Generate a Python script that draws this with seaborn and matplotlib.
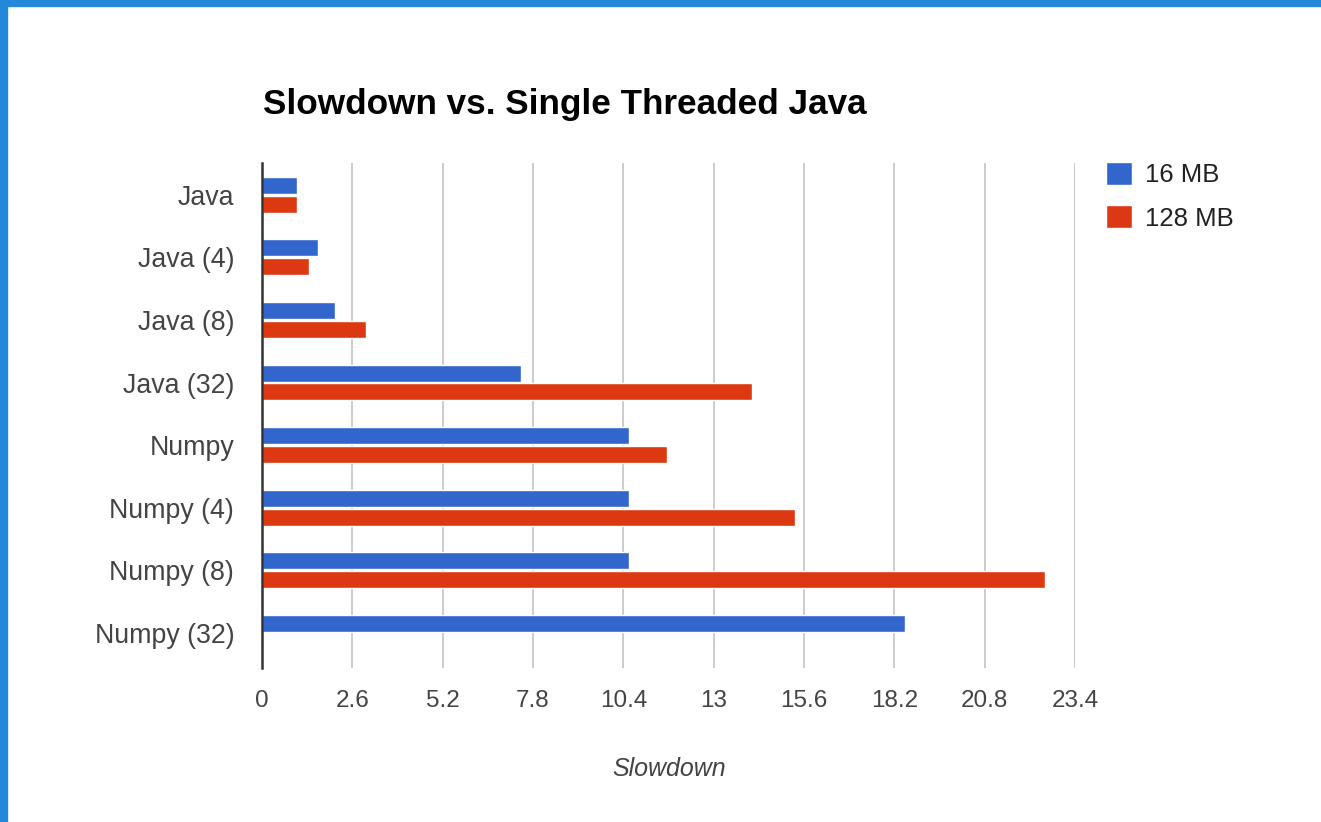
import numpy as np
import pandas as pd
import matplotlib
matplotlib.use("Agg")
import matplotlib.pyplot as plt
from matplotlib import font_manager
from matplotlib.patches import Rectangle
import seaborn as sns

categories = ["Java", "Java (4)", "Java (8)", "Java (32)",
              "Numpy", "Numpy (4)", "Numpy (8)", "Numpy (32)"]
mb16 = [1.0, 1.6, 2.1, 7.45, 10.55, 10.55, 10.55, 18.5]
mb128 = [1.0, 1.35, 3.0, 14.1, 11.65, 15.35, 22.55, 0.0]
series = ["16 MB", "128 MB"]
colors = ["#3366cc", "#dc3912"]
xticks = [0, 2.6, 5.2, 7.8, 10.4, 13, 15.6, 18.2, 20.8, 23.4]

df = pd.DataFrame({
    "cat": categories * 2,
    "val": mb16 + mb128,
    "size": [series[0]] * len(categories) + [series[1]] * len(categories),
})

sns.set_theme(style="white")
plt.rcParams["font.family"] = ["Liberation Sans", "DejaVu Sans"]
installed = {f.name for f in font_manager.fontManager.ttflist}
narrow = "Liberation Sans Narrow" if "Liberation Sans Narrow" in installed else "Liberation Sans"

W, H = 1321, 822
fig = plt.figure(figsize=(W / 100, H / 100), dpi=100)
ax = fig.add_axes([262 / W, 1 - 668 / H, 813 / W, 505 / H])

sns.barplot(data=df, y="cat", x="val", hue="size", hue_order=series,
            palette=colors, orient="h", width=0.6, gap=0.1,
            saturation=1, ax=ax, legend=True)

ax.set_xlim(0, 23.4)
ax.set_ylim(7.56, -0.506)
ax.set_xticks(xticks)
ax.set_xticklabels([f"{v:g}" for v in xticks], family=narrow, fontsize=17.5, color="#444444")
ax.tick_params(axis="x", length=0, pad=16)
ax.tick_params(axis="y", length=0, pad=20, labelsize=19.3, labelcolor="#444444")
ax.xaxis.grid(True, color="#cccccc", linewidth=1.4)
ax.set_axisbelow(True)
for s in ["top", "right", "bottom"]:
    ax.spines[s].set_visible(False)
ax.spines["left"].set_color("#333333")
ax.spines["left"].set_linewidth(1.8)
ax.spines["left"].set_zorder(5)

ax.set_ylabel("")
ax.set_xlabel("Slowdown", fontsize=18, style="italic", family=narrow, color="#444444")
ax.xaxis.set_label_coords(407 / 813, -101 / 505)
ax.xaxis.label.set_va("center")

handles, labels = ax.get_legend_handles_labels()
ax.legend(handles, labels, loc="upper left", bbox_to_anchor=(1106 / W, 1 - 162 / H),
          bbox_transform=fig.transFigure, frameon=False, borderpad=0, borderaxespad=0,
          handlelength=1.0, handleheight=1.0, handletextpad=0.5,
          labelspacing=0.7, fontsize=18.5, labelcolor="#222222")

fig.text(263 / W, 1 - 104 / H, "Slowdown vs. Single Threaded Java",
         fontsize=25.3, fontweight="bold", color="#000000", va="center", ha="left")

# blue frame at top and left edge
fig.patches.append(Rectangle((0, 1 - 6 / H), 1, 6 / H, transform=fig.transFigure,
                             color="#2387da", zorder=10))
fig.patches.append(Rectangle((0, 0), 6.5 / W, 1, transform=fig.transFigure,
                             color="#2387da", zorder=10))

fig.savefig("out.png", dpi=100)
